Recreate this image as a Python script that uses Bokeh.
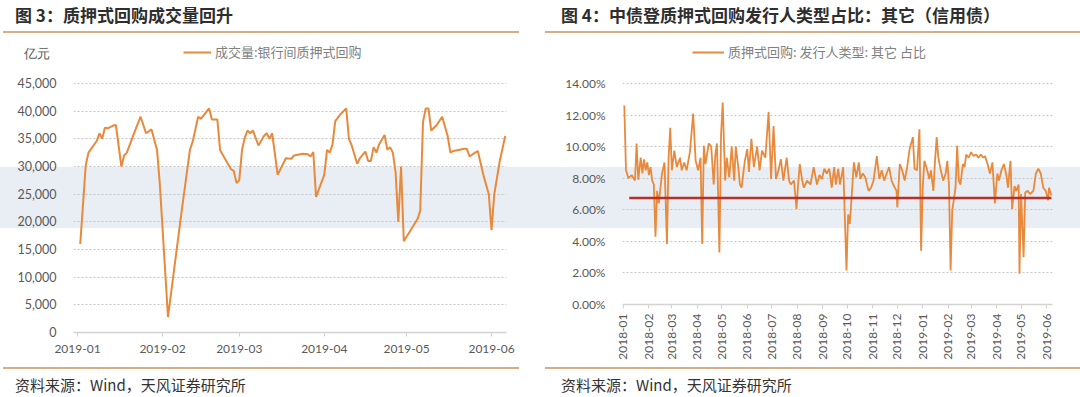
import math
import pandas as pd
from bokeh.plotting import figure
from bokeh.layouts import row, column
from bokeh.models import (Range1d, FixedTicker, DatetimeTickFormatter, NumeralTickFormatter,
                          Legend, LegendItem, Div)
from bokeh.embed import file_html
from bokeh.resources import INLINE

# ---------------- Figure 3 data: 质押式回购成交量 (亿元) ----------------
vol_title = "图 3：质押式回购成交量回升"
vol_unit = "亿元"
vol_series = "成交量:银行间质押式回购"
vol_dates = ["2019-01-02", "2019-01-04", "2019-01-05", "2019-01-08", "2019-01-09", "2019-01-10",
             "2019-01-11", "2019-01-12", "2019-01-14", "2019-01-15", "2019-01-17", "2019-01-18",
             "2019-01-19", "2019-01-22", "2019-01-24", "2019-01-26", "2019-01-28", "2019-01-30",
             "2019-01-31", "2019-02-03", "2019-02-08", "2019-02-11", "2019-02-12", "2019-02-14",
             "2019-02-15", "2019-02-18", "2019-02-19", "2019-02-21", "2019-02-22", "2019-02-24",
             "2019-02-26", "2019-02-27", "2019-02-28", "2019-03-01", "2019-03-02", "2019-03-03",
             "2019-03-04", "2019-03-05", "2019-03-06", "2019-03-08", "2019-03-10", "2019-03-11",
             "2019-03-12", "2019-03-13", "2019-03-15", "2019-03-16", "2019-03-18", "2019-03-20",
             "2019-03-21", "2019-03-24", "2019-03-26", "2019-03-27", "2019-03-28", "2019-03-29",
             "2019-04-01", "2019-04-02", "2019-04-03", "2019-04-04", "2019-04-05", "2019-04-07",
             "2019-04-09", "2019-04-10", "2019-04-11", "2019-04-13", "2019-04-14", "2019-04-16",
             "2019-04-17", "2019-04-18", "2019-04-19", "2019-04-20", "2019-04-21", "2019-04-23",
             "2019-04-24", "2019-04-25", "2019-04-26", "2019-04-27", "2019-04-28", "2019-04-29",
             "2019-04-30", "2019-05-05", "2019-05-06", "2019-05-07", "2019-05-08", "2019-05-09",
             "2019-05-10", "2019-05-12", "2019-05-14", "2019-05-16", "2019-05-17", "2019-05-18",
             "2019-05-20", "2019-05-22", "2019-05-23", "2019-05-24", "2019-05-26", "2019-05-27",
             "2019-05-29", "2019-05-31", "2019-06-01", "2019-06-02", "2019-06-04", "2019-06-06"]
vol_values = [16000, 30200, 32500, 34600, 36000, 35000,
              37000, 36900, 37400, 37500, 30000, 32000,
              32500, 36500, 39000, 36000, 36700, 33000,
              27000, 2800, 22000, 33000, 34500, 39000,
              38600, 40500, 38500, 38500, 33000, 31200,
              29500, 29200, 27000, 27500, 33000, 35200,
              36500, 36000, 36500, 33800, 35500, 36000,
              35000, 36000, 28500, 29500, 31500, 31400,
              32000, 32300, 32200, 31800, 32600, 24500,
              28500, 33000, 32500, 34000, 38200, 39500,
              40500, 35000, 33800, 30500, 31500, 32700,
              31000, 31000, 33500, 32500, 34000, 35700,
              33000, 33500, 32500, 29000, 20000, 30000,
              16500, 20500, 22000, 38000, 40500, 40500,
              36500, 37500, 39000, 35500, 32500, 32800,
              33000, 33200, 33200, 31800, 32500, 32800,
              28500, 25000, 18500, 25000, 31000, 35500]
vol_x_ticks = ["2019-01", "2019-02", "2019-03", "2019-04", "2019-05", "2019-06"]
vol_y_ticks = [0, 5000, 10000, 15000, 20000, 25000, 30000, 35000, 40000, 45000]
vol_unit_at = 50400   # height of the unit caption on the value axis

# ---------------- Figure 4 data: 发行人类型 其它 占比 (%) ----------------
share_title = "图 4：中债登质押式回购发行人类型占比：其它（信用债）"
share_series = "质押式回购: 发行人类型: 其它 占比"
share_dates = [
    "2018-01-02", "2018-01-04", "2018-01-07", "2018-01-11", "2018-01-15", "2018-01-17", "2018-01-19",
    "2018-01-22", "2018-01-24", "2018-01-26", "2018-01-28", "2018-01-30", "2018-02-01", "2018-02-03",
    "2018-02-05", "2018-02-07", "2018-02-09", "2018-02-11", "2018-02-13", "2018-02-17", "2018-02-20",
    "2018-02-23", "2018-02-25", "2018-02-27", "2018-03-01", "2018-03-04", "2018-03-07", "2018-03-11",
    "2018-03-13", "2018-03-16", "2018-03-19", "2018-03-23", "2018-03-27", "2018-03-30", "2018-04-02",
    "2018-04-05", "2018-04-07", "2018-04-09", "2018-04-11", "2018-04-15", "2018-04-18", "2018-04-21",
    "2018-04-23", "2018-04-25", "2018-04-28", "2018-04-30", "2018-05-02", "2018-05-05", "2018-05-07",
    "2018-05-10", "2018-05-13", "2018-05-16", "2018-05-18", "2018-05-21", "2018-05-23", "2018-05-25",
    "2018-05-29", "2018-06-01", "2018-06-03", "2018-06-06", "2018-06-09", "2018-06-13", "2018-06-16",
    "2018-06-19", "2018-06-23", "2018-06-27", "2018-06-30", "2018-07-03", "2018-07-06", "2018-07-09",
    "2018-07-12", "2018-07-15", "2018-07-19", "2018-07-22", "2018-07-24", "2018-07-28", "2018-07-31",
    "2018-08-02", "2018-08-04", "2018-08-07", "2018-08-09", "2018-08-13", "2018-08-17", "2018-08-21",
    "2018-08-25", "2018-08-28", "2018-08-31", "2018-09-03", "2018-09-06", "2018-09-09", "2018-09-12",
    "2018-09-15", "2018-09-17", "2018-09-20", "2018-09-22", "2018-09-26", "2018-09-27", "2018-09-30",
    "2018-10-02", "2018-10-04", "2018-10-07", "2018-10-09", "2018-10-12", "2018-10-15", "2018-10-17",
    "2018-10-20", "2018-10-23", "2018-10-25", "2018-10-27", "2018-10-30", "2018-11-02", "2018-11-06",
    "2018-11-09", "2018-11-12", "2018-11-15", "2018-11-18", "2018-11-21", "2018-11-24", "2018-11-26",
    "2018-11-30", "2018-12-01", "2018-12-04", "2018-12-07", "2018-12-10", "2018-12-13", "2018-12-16",
    "2018-12-20", "2018-12-22", "2018-12-25", "2018-12-28", "2018-12-30", "2019-01-01", "2019-01-03",
    "2019-01-06", "2019-01-09", "2019-01-11", "2019-01-14", "2019-01-16", "2019-01-18", "2019-01-20",
    "2019-01-23", "2019-01-26", "2019-01-29", "2019-01-31", "2019-02-02", "2019-02-04", "2019-02-06",
    "2019-02-10", "2019-02-12", "2019-02-14", "2019-02-16", "2019-02-19", "2019-02-21", "2019-02-23",
    "2019-02-26", "2019-03-01", "2019-03-04", "2019-03-07", "2019-03-10", "2019-03-13", "2019-03-16",
    "2019-03-18", "2019-03-21", "2019-03-24", "2019-03-27", "2019-03-30", "2019-04-02", "2019-04-04",
    "2019-04-07", "2019-04-10", "2019-04-13", "2019-04-15", "2019-04-18", "2019-04-20", "2019-04-23",
    "2019-04-25", "2019-04-28", "2019-04-29", "2019-05-01", "2019-05-04", "2019-05-06", "2019-05-09",
    "2019-05-12", "2019-05-16", "2019-05-19", "2019-05-22", "2019-05-25", "2019-05-28", "2019-05-31",
    "2019-06-03", "2019-06-04", "2019-06-07"]
share_values = [
    12.6, 8.5, 8.0, 8.2, 7.85, 10.2, 7.9,
    9.3, 8.3, 9.2, 8.5, 9.0, 8.2, 8.7,
    7.85, 7.6, 4.3, 7.2, 6.4, 8.3, 9.0,
    3.84, 9.3, 11.2, 8.5, 9.75, 8.7, 9.3,
    8.5, 9.0, 8.5, 9.65, 12.1, 9.1, 8.5,
    9.3, 3.84, 10.06, 8.9, 10.2, 10.0, 7.6,
    9.5, 10.2, 3.3, 10.8, 12.8, 7.85, 9.3,
    8.05, 10.0, 7.85, 10.0, 8.7, 7.6, 7.4,
    9.1, 9.85, 8.4, 10.5, 8.7, 10.0, 8.5,
    9.75, 9.3, 12.2, 7.95, 11.3, 7.95, 8.5,
    9.2, 7.85, 9.3, 7.85, 7.6, 7.85, 6.05,
    7.6, 8.9, 7.85, 7.4, 7.85, 7.6, 8.7,
    7.6, 8.2, 7.95, 8.6, 8.3, 8.6, 7.4,
    8.7, 7.6, 8.6, 7.6, 8.7, 7.2, 2.15,
    5.7, 5.1, 7.4, 9.0, 8.05, 9.0, 7.95,
    8.3, 8.05, 7.6, 7.2, 7.4, 7.85, 9.4,
    7.95, 8.5, 7.85, 8.3, 8.7, 7.85, 7.6,
    7.2, 6.15, 8.9, 8.5, 7.85, 8.7, 9.85,
    10.6, 8.6, 8.5, 11.1, 3.4, 7.4, 9.1,
    8.6, 7.95, 8.5, 7.2, 9.1, 10.6, 9.3,
    8.5, 7.85, 8.3, 9.1, 7.6, 2.15, 5.95,
    7.4, 10.06, 7.85, 7.6, 8.9, 8.7, 9.5,
    9.3, 9.65, 9.4, 9.5, 9.3, 9.5, 9.3,
    9.4, 8.9, 8.3, 9.0, 6.4, 8.3, 7.85,
    8.5, 8.9, 8.2, 7.4, 9.1, 6.05, 7.5,
    7.2, 7.6, 1.95, 7.0, 3.0, 7.1, 7.2,
    7.0, 7.2, 8.3, 8.6, 8.3, 7.4, 7.2,
    6.6, 7.4, 6.9]
share_ref_dates = ["2018-01-08", "2019-06-07"]
share_ref_values = [6.75, 6.75]
share_x_ticks = ["2018-01", "2018-02", "2018-03", "2018-04", "2018-05", "2018-06", "2018-07",
                 "2018-08", "2018-09", "2018-10", "2018-11", "2018-12", "2019-01", "2019-02",
                 "2019-03", "2019-04", "2019-05", "2019-06"]
share_y_ticks = [0, 2, 4, 6, 8, 10, 12, 14]
share_y_labels = ["0.00%", "2.00%", "4.00%", "6.00%", "8.00%", "10.00%", "12.00%", "14.00%"]

source_text = "资料来源：Wind，天风证券研究所"

# ---------------- styling constants ----------------
CJK = "Noto Sans CJK SC"
NUM = "Lato"
ORANGE = "#e8893b"
GRID = "#c4c4c4"
AXIS = "#d3d3d3"
TICKTXT = "#595959"


def ms(s):
    return pd.Timestamp(s).value // 10**6


def style(p):
    p.frame_align = False
    p.outline_line_color = None
    p.background_fill_color = None
    p.border_fill_color = None
    p.xgrid.visible = False
    p.ygrid.grid_line_color = GRID
    p.ygrid.grid_line_dash = "2 2"
    p.ygrid.grid_line_width = 1
    p.yaxis.axis_line_color = None
    p.yaxis.major_tick_line_color = None
    p.yaxis.minor_tick_line_color = None
    p.yaxis.major_label_text_font = NUM
    p.yaxis.major_label_text_font_size = "12px"
    p.yaxis.major_label_text_color = TICKTXT
    p.xaxis.axis_line_color = AXIS
    p.xaxis.axis_line_width = 1.5
    p.xaxis.major_tick_line_color = AXIS
    p.xaxis.major_tick_out = 4
    p.xaxis.major_tick_in = 0
    p.xaxis.minor_tick_line_color = None
    p.xaxis.major_label_text_font = NUM
    p.xaxis.major_label_text_font_size = "12px"
    p.xaxis.major_label_text_color = TICKTXT
    fmt = "%Y-%m"
    p.xaxis.formatter = DatetimeTickFormatter(years=fmt, months=fmt, days=fmt, hours=fmt,
                                              hourmin=fmt, minutes=fmt, minsec=fmt,
                                              seconds=fmt, milliseconds=fmt, microseconds=fmt)


def legend(renderer, label, loc, glyph_w):
    return Legend(items=[LegendItem(label=label, renderers=[renderer])],
                  location=loc, orientation="horizontal", padding=0, margin=0,
                  border_line_color=None, background_fill_alpha=0,
                  glyph_width=glyph_w, glyph_height=16, label_height=16, label_standoff=4,
                  label_text_font=CJK, label_text_font_size="13px",
                  label_text_color="#808080")


def text_div(s, width, height, left, top, size, weight, color, lh):
    html = (f'<div style="margin:{top}px 0 0 {left}px;font-family:\'{CJK}\';font-size:{size}px;'
            f'font-weight:{weight};color:{color};line-height:{lh}px;white-space:nowrap">{s}</div>')
    return Div(text=html, width=width, height=height, margin=0)


FIG_H = 327

# ---------------- left figure ----------------
p1 = figure(width=540, height=FIG_H, x_axis_type="datetime", output_backend="svg",
            toolbar_location=None, title=None,
            x_range=Range1d(pd.Timestamp("2018-12-30 13:00"), pd.Timestamp("2019-06-06 11:00")),
            y_range=Range1d(0, 52771),
            min_border_left=73, min_border_right=34, min_border_top=0, min_border_bottom=35)
style(p1)
r1 = p1.line(pd.to_datetime(vol_dates), vol_values, line_color=ORANGE, line_width=2)
p1.xaxis.ticker = FixedTicker(ticks=[ms(t + "-01") for t in vol_x_ticks])
p1.xaxis.major_label_standoff = 8
p1.yaxis.ticker = FixedTicker(ticks=vol_y_ticks + [vol_unit_at])
p1.ygrid.ticker = FixedTicker(ticks=vol_y_ticks)
p1.yaxis.formatter = NumeralTickFormatter(format="0,0")
p1.yaxis.major_label_overrides = {vol_unit_at: vol_unit + "\u00a0\u00a0"}
p1.yaxis.major_label_text_font_size = "12.5px"
p1.yaxis.major_label_standoff = 11
p1.add_layout(legend(r1, vol_series, (110, 271), 28))

# ---------------- right figure ----------------
p2 = figure(width=540, height=FIG_H, x_axis_type="datetime", output_backend="svg",
            toolbar_location=None, title=None,
            x_range=Range1d(pd.Timestamp("2017-12-30 18:45"), pd.Timestamp("2019-06-08 07:00")),
            y_range=Range1d(0, 16.724),
            min_border_left=82, min_border_right=28, min_border_top=0, min_border_bottom=63)
style(p2)
r2 = p2.line(pd.to_datetime(share_dates), share_values, line_color=ORANGE, line_width=1.8)
p2.line(pd.to_datetime(share_ref_dates), share_ref_values, line_color="#b8302a", line_width=2.5)
p2.xaxis.ticker = FixedTicker(ticks=[ms(t + "-01") for t in share_x_ticks])
p2.xaxis.major_label_orientation = math.pi / 2
p2.xaxis.major_label_standoff = 5
p2.yaxis.ticker = FixedTicker(ticks=share_y_ticks)
p2.yaxis.major_label_overrides = {t: l for t, l in zip(share_y_ticks, share_y_labels)}
p2.yaxis.major_label_standoff = 11
p2.add_layout(legend(r2, share_series, (70, 243), 32))

# ---------------- titles and sources ----------------
t1 = text_div(vol_title, 540, 40, 15, 3, 17, 700, "#2e2e2e", 24)
t2 = text_div(share_title, 540, 40, 21, 3, 17, 700, "#2e2e2e", 24)
s1 = text_div(source_text, 540, 30, 15, 7, 15, 400, "#333333", 22)
s2 = text_div(source_text, 540, 30, 21, 7, 15, 400, "#333333", 22)

TAN = "#d5af83"
BAND = "#e9eef4"
layout = column(row(t1, t2), row(p1, p2), row(s1, s2), styles={
    "background-image": ", ".join([f"linear-gradient({TAN},{TAN})"] * 4 +
                                  [f"linear-gradient({BAND},{BAND})"]),
    "background-size": "516px 2px, 535px 2px, 516px 2px, 535px 2px, 100% 61px",
    "background-position": "3px 31px, 545px 31px, 3px 367px, 545px 367px, 0px 167px",
    "background-repeat": "no-repeat",
})

open("out.html", "w").write(file_html(layout, INLINE))
